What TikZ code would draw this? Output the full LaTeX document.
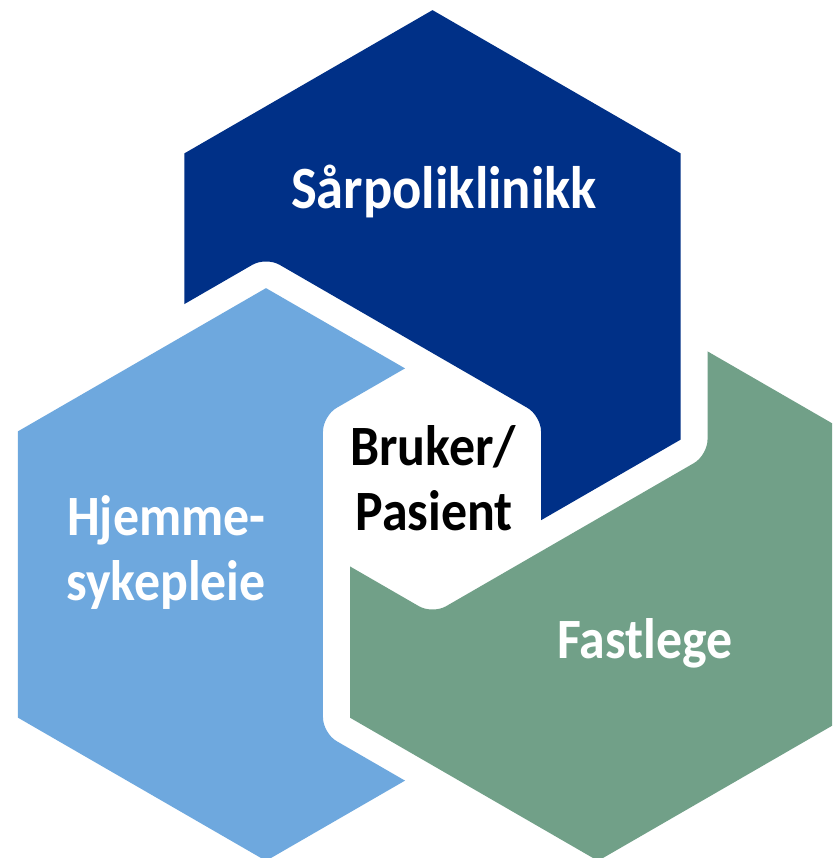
\documentclass[tikz,border=0pt]{standalone}
\usepackage{fontspec}
\setmainfont{Carlito}
\newfontfamily\labelfont{Carlito Bold}[FakeStretch=0.91]
\usetikzlibrary{calc}
\definecolor{dblue}{RGB}{0,48,135}
\definecolor{lblue}{RGB}{110,168,222}
\definecolor{sgreen}{RGB}{113,160,136}
\newcommand{\hexpath}[1]{(#10) -- (#11) -- (#12) -- (#13) -- (#14) -- (#15) -- cycle}
\newcommand{\roundhex}[1]{($(#1p0)!0.5!(#1p1)$) -- (#1p1) -- (#1p2) -- (#1p3) -- (#1p4) -- (#1p5) -- (#1p0) -- cycle}
\tikzset{
  hexlabel/.style={text=white, font=\labelfont\fontsize{57}{64}\selectfont, inner sep=0pt, anchor=base},
  midlabel/.style={text=black, font=\labelfont\fontsize{57}{64}\selectfont, inner sep=0pt, anchor=base},
  gapclip/.style={even odd rule, rounded corners=15.59pt},
  hexfill/.style={sharp corners, nonzero rule}
}
\begin{document}
\begin{tikzpicture}[x=1pt,y=-1pt]
\useasboundingbox (0,0) rectangle (832,858);
\fill[white] (0,0) rectangle (832,858);
\clip (0,0) rectangle (832,858);
\foreach \n/\cx/\cy in {D/432.5/296.5,L/266/574.5,G/598/574.5}{
  \foreach \k in {0,...,5}{
    \coordinate (\n\k) at ($(\cx,\cy)+({30+60*\k}:286.37)$);
    \coordinate (\n p\k) at ($(\cx,\cy)+({30+60*\k}:317.55)$);
  }
}
% dark blue: under light blue
\begin{scope}[gapclip]
  \clip (-100,-100) rectangle (950,950) \roundhex{L};
  \fill[dblue, hexfill] \hexpath{D};
\end{scope}
% light blue: under green
\begin{scope}[gapclip]
  \clip (-100,-100) rectangle (950,950) \roundhex{G};
  \fill[lblue, hexfill] \hexpath{L};
\end{scope}
% green: under dark blue
\begin{scope}[gapclip]
  \clip (-100,-100) rectangle (950,950) \roundhex{D};
  \fill[sgreen, hexfill] \hexpath{G};
\end{scope}
\node[hexlabel, font=\labelfont\fontsize{60}{66}\selectfont] (sar) at (444,209) {Sårpoliklinikk};
\node[midlabel] (bruker) at (433,465) {Bruker/};
\node[midlabel] (pasient) at (434,530) {Pasient};
\node[hexlabel] (hjemme) at (166.5,535) {Hjemme-};
\node[hexlabel] (syke) at (166,600) {sykepleie};
\node[hexlabel] (fast) at (645,658) {Fastlege};
\end{tikzpicture}
\end{document}
